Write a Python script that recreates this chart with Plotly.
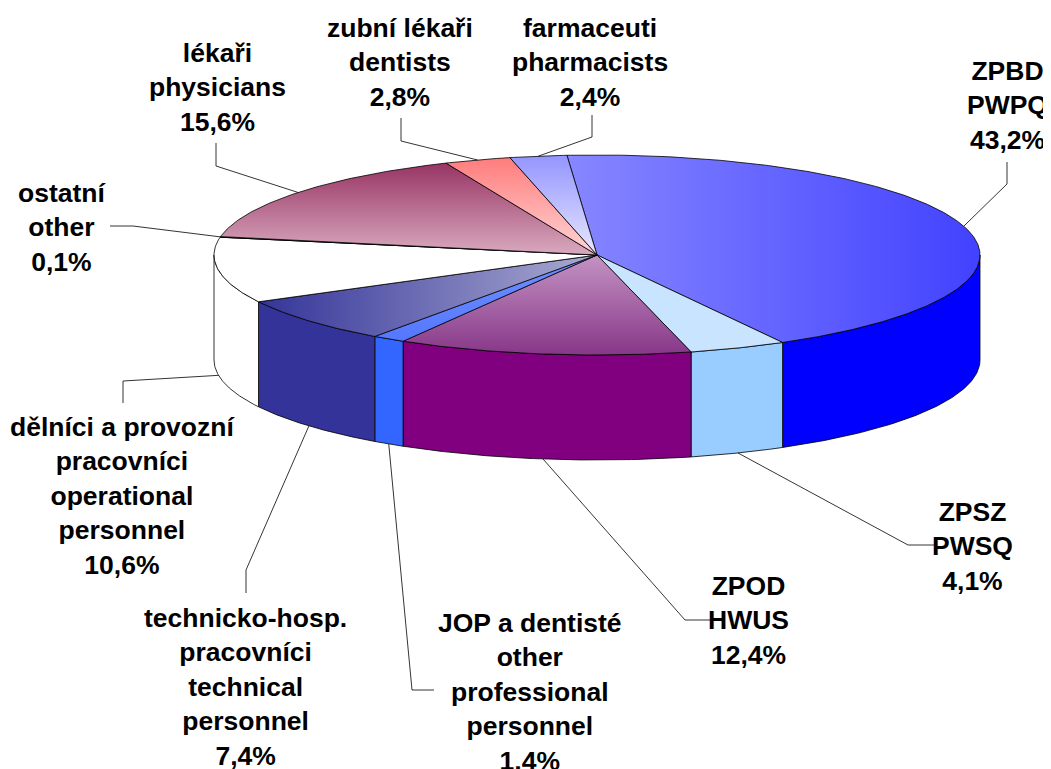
import numpy as np
import plotly.graph_objects as go

# ---- data ----
names = [
    "ZPBD<br>PWPQ",
    "ZPSZ<br>PWSQ",
    "ZPOD<br>HWUS",
    "JOP a dentisté<br>other<br>professional<br>personnel",
    "technicko-hosp.<br>pracovníci<br>technical<br>personnel",
    "dělníci a provozní<br>pracovníci<br>operational<br>personnel",
    "ostatní<br>other",
    "lékaři<br>physicians",
    "zubní lékaři<br>dentists",
    "farmaceuti<br>pharmacists",
]
values = [43.2, 4.1, 12.4, 1.4, 7.4, 10.6, 0.1, 15.6, 2.8, 2.4]

# ---- styles ----
# (gradient type, colour at start, colour at end)
top_colors = [
    ("horizontal", "#8787ff", "#4242ff"),
    ("vertical", "#c8e4ff", "#c8e4ff"),
    ("vertical", "#873787", "#c493c4"),
    ("vertical", "#5577ff", "#7090ff"),
    ("horizontal", "#343499", "#ababd2"),
    ("vertical", "#ffffff", "#ffffff"),
    ("vertical", "#993366", "#993366"),
    ("vertical", "#d9aabf", "#983464"),
    ("vertical", "#ffd6d6", "#ff7c7c"),
    ("vertical", "#e8e8ff", "#9494ff"),
]
wall_colors = ["#0000ff", "#99ccff", "#800080", "#3366ff", "#333399",
               "#ffffff", "#993366", "#993366", "#ff8080", "#9999ff"]

# label placement (layout): text centre and leader-line elbow/end
label_pos = [(1007, 105), (972, 546), (748, 620), (530, 692), (245, 687),
             (122, 496), (62, 227), (217, 87), (400, 62), (590, 62)]
leader_pts = [
    [(1007, 184), (1007, 162)],
    [(908, 545), (934, 545)],
    [(685, 620), (710, 620)],
    [(412, 690), (434, 690)],
    [(246, 570), (246, 593)],
    [(123, 381), (123, 403)],
    [(133, 226), (110, 226)],
    [(216, 166), (216, 143)],
    [(401, 141), (401, 118)],
    [(592, 137), (592, 115)],
]

CX, CY, RX, RY, DEPTH = 597, 255, 383, 100, 105
START = 94.5
OFF = 8  # page body margin

def pt(t_deg, dy=0.0):
    t = np.radians(t_deg)
    return CX + RX * np.cos(t), CY - RY * np.sin(t) + dy

fig = go.Figure()

vals = np.array(values, dtype=float)
fracs = vals / vals.sum()
cum = np.concatenate([[0], np.cumsum(fracs)])
t_hi = START - 360 * cum[:-1]
t_lo = START - 360 * cum[1:]

# side walls (front half: t in [-180, 0])
for i in range(len(values)):
    a = max(t_lo[i], -180.0)
    b = min(t_hi[i], 0.0)
    if b <= a:
        continue
    ts = np.linspace(b, a, 80)
    xs_top, ys_top = pt(ts)
    xs_bot, ys_bot = pt(ts[::-1], DEPTH)
    xs = np.concatenate([xs_top, xs_bot, xs_top[:1]])
    ys = np.concatenate([ys_top, ys_bot, ys_top[:1]])
    fig.add_trace(go.Scatter(x=xs, y=ys, mode="lines", fill="toself",
                             fillcolor=wall_colors[i],
                             line=dict(color="black", width=0.8),
                             hoverinfo="skip", showlegend=False))

# top faces
for i in range(len(values)):
    n = max(4, int(abs(t_hi[i] - t_lo[i]) * 2))
    ts = np.linspace(t_hi[i], t_lo[i], n)
    ax, ay = pt(ts)
    xs = np.concatenate([[CX], ax, [CX]])
    ys = np.concatenate([[CY], ay, [CY]])
    kind, c0, c1 = top_colors[i]
    fig.add_trace(go.Scatter(x=xs, y=ys, mode="lines", fill="toself",
                             fillcolor=c0,
                             fillgradient=dict(type=kind,
                                               colorscale=[[0, c0], [1, c1]]),
                             line=dict(color="black", width=0.8),
                             hoverinfo="skip", showlegend=False))

# leader lines
for i in range(len(values)):
    mid = (t_hi[i] + t_lo[i]) / 2
    m = ((mid + 180) % 360) - 180
    if -180 <= m <= 0:
        ax, ay = pt(mid, DEPTH)
    else:
        ax, ay = pt(mid)
    xs = [ax] + [p[0] for p in leader_pts[i]]
    ys = [ay] + [p[1] for p in leader_pts[i]]
    fig.add_trace(go.Scatter(x=xs, y=ys, mode="lines",
                             line=dict(color="black", width=0.8),
                             hoverinfo="skip", showlegend=False))

# labels
for i in range(len(values)):
    pct = f"{values[i]:.1f}".replace(".", ",") + "%"
    fig.add_annotation(x=label_pos[i][0], y=label_pos[i][1], xref="x", yref="y",
                       text=names[i] + "<br>" + pct, showarrow=False,
                       xanchor="center", yanchor="middle", align="center",
                       font=dict(family="Liberation Sans, Arial", size=26.5,
                                 color="black", weight="bold"))

fig.update_layout(
    width=1051 - OFF, height=769 - OFF,
    margin=dict(l=0, r=0, t=0, b=0),
    paper_bgcolor="white", plot_bgcolor="white",
    xaxis=dict(range=[OFF, 1051], visible=False, fixedrange=True),
    yaxis=dict(range=[769, OFF], visible=False, fixedrange=True),
    showlegend=False,
)

fig.write_html("out.html")
